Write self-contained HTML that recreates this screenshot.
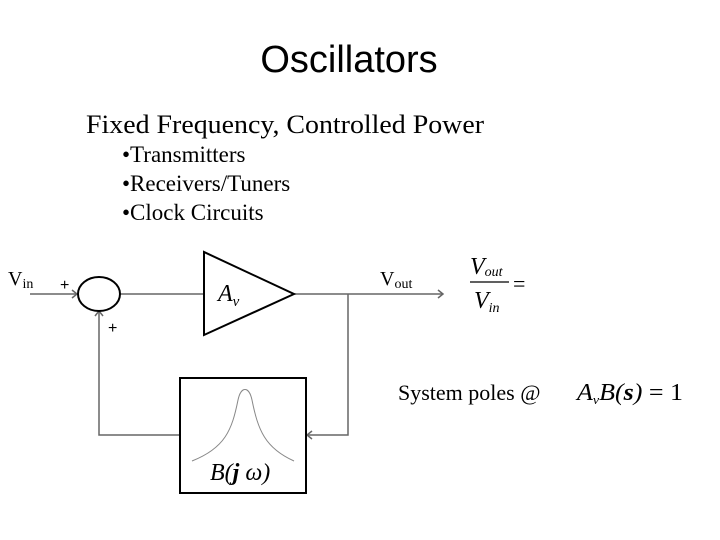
<!DOCTYPE html>
<html><head><style>
body{margin:0;width:720px;height:540px;background:#fff;overflow:hidden}
svg{display:block}
</style></head><body>
<svg width="720" height="540" viewBox="0 0 720 540" xmlns="http://www.w3.org/2000/svg">
<text x="349" y="72" font-family="Liberation Sans Narrow, Liberation Sans, sans-serif" font-size="38" text-anchor="middle" fill="#000">Oscillators</text>
<g font-family="Liberation Serif, serif" fill="#000">
<text x="86" y="133" font-size="26" textLength="398" lengthAdjust="spacingAndGlyphs">Fixed Frequency, Controlled Power</text>
<text x="122" y="162" font-size="23">•Transmitters</text>
<text x="122" y="191" font-size="23">•Receivers/Tuners</text>
<text x="122" y="220" font-size="23">•Clock Circuits</text>
<text x="8" y="285" font-size="20">V<tspan font-size="14" dy="3">in</tspan></text>
<text x="380" y="285" font-size="20">V<tspan font-size="14" dy="3">out</tspan></text>
<text x="218" y="301" font-size="24" font-style="italic">A<tspan font-size="15" dy="5">v</tspan></text>
<text x="470" y="274" font-size="24" font-style="italic">V<tspan font-size="14" dy="2">out</tspan></text>
<text x="474" y="308" font-size="24" font-style="italic">V<tspan font-size="14" dy="4">in</tspan></text>
<text x="513" y="291" font-size="22">=</text>
<text x="398" y="400" font-size="22">System poles @</text>
<text x="577" y="400" font-size="24" font-style="italic" textLength="106" lengthAdjust="spacingAndGlyphs">A<tspan font-size="13" dy="4">v</tspan><tspan dy="-4">B(<tspan font-weight="bold">s</tspan>)</tspan><tspan font-style="normal"> = 1</tspan></text>
<text x="210" y="480" font-size="24" font-style="italic">B(<tspan font-weight="bold">j</tspan> ω)</text>
</g>
<g font-family="Liberation Sans, sans-serif" font-size="16" fill="#000">
<text x="60" y="290">+</text>
<text x="108" y="333">+</text>
</g>
<line x1="470" y1="282" x2="509" y2="282" stroke="#000" stroke-width="1.2"/>
<g stroke="#666" stroke-width="1.5" fill="none">
<line x1="30" y1="294" x2="77" y2="294"/>
<polyline points="72,290 77,294 72,298"/>
<line x1="120" y1="294" x2="204" y2="294"/>
<line x1="294" y1="294" x2="443" y2="294"/>
<polyline points="438,290 443,294 438,298"/>
<polyline points="348,294 348,435 307,435"/>
<polyline points="312,431 307,435 312,439"/>
<polyline points="180,435 99,435 99,311"/>
<polyline points="95,316 99,311 103,316"/>
</g>
<ellipse cx="99" cy="294" rx="21" ry="17" fill="none" stroke="#000" stroke-width="2"/>
<polygon points="204,252 204,335 294,294" fill="none" stroke="#000" stroke-width="2"/>
<rect x="180" y="378" width="126" height="115" fill="none" stroke="#000" stroke-width="2"/>
<path d="M192,461 C225,448 232,430 238,400 C241,386 249,386 252,400 C258,430 265,448 294,461" fill="none" stroke="#888" stroke-width="1"/>
</svg>
</body></html>
